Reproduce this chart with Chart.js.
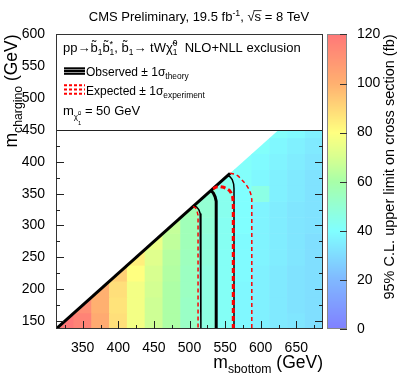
<!DOCTYPE html>
<html><head><meta charset="utf-8">
<script src="https://cdn.jsdelivr.net/npm/chart.js@4.4.0/dist/chart.umd.min.js"></script>
<style>html,body{margin:0;padding:0;background:#fff;overflow:hidden}</style>
</head><body>
<canvas id="c" width="399" height="383"></canvas>
<script>
// ---------- data ----------
const xBins = [325,350,375,400,425,450,475,500,525,550,575,600,625,650,675]; // m_sbottom bin centres (GeV)
const yBins = [150,175,200,225,250,275,300,325,350,375,400,425,450];         // m_chargino bin centres (GeV)
// 95% CL upper limit on cross section (fb), one row per yBin, one column per xBin
const upperLimit = [
  [120,116,102,88,77,68,61,53,47,42,38,36,34,33,31],
  [null,112,100,87,77,68,61,53,47,42,38,36,34,32,31],
  [null,null,100,88,77,69,61,54,47,42,38,36,34,32,31],
  [null,null,null,92,80,70,62,54,47,42,39,36,34,32,31],
  [null,null,null,null,84,72,63,55,48,42,39,37,35,33,31],
  [null,null,null,null,null,75,65,56,48,43,39,37,35,33,31],
  [null,null,null,null,null,null,66,56,49,43,40,37,35,33,32],
  [null,null,null,null,null,null,null,57,50,44,40,37,35,33,32],
  [null,null,null,null,null,null,null,null,50,44,40,46,36,34,32],
  [null,null,null,null,null,null,null,null,null,44,41,38,36,34,32],
  [null,null,null,null,null,null,null,null,null,null,41,39,37,35,33],
  [null,null,null,null,null,null,null,null,null,null,null,41,38,36,34],
  [null,null,null,null,null,null,null,null,null,null,null,null,41,39,36]
];
const observed      = [{x:530,y:355},{x:533.5,y:351},{x:536,y:345},{x:537.5,y:338},{x:537.5,y:137.5}];
const observedMinus = [{x:506.5,y:331.5},{x:510,y:329},{x:513,y:325},{x:515,y:319},{x:516,y:312},{x:516,y:137.5}];
const observedPlus  = [{x:553.5,y:378.5},{x:557,y:376.5},{x:560,y:372},{x:562,y:365},{x:562.5,y:358},{x:562.5,y:137.5}];
const expected      = [{x:533,y:358},{x:538,y:360.5},{x:543,y:361},{x:548,y:360},{x:552,y:358},{x:556,y:355},{x:558.5,y:351},{x:560.5,y:345},{x:561.5,y:337},{x:561.5,y:137.5}];
const expectedPlus  = [{x:557,y:382},{x:564,y:380.5},{x:569,y:377},{x:574,y:371},{x:579,y:365},{x:583,y:358},{x:586,y:350},{x:587.5,y:341},{x:587.5,y:137.5}];
const expectedMinus = [{x:505,y:330},{x:508.5,y:327.5},{x:510.5,y:323},{x:512,y:316},{x:512,y:137.5}];
const kinematicLimit = [{x:312.5,y:137.5},{x:557,y:382}];
const xTickLabels = [350,400,450,500,550,600,650];
const yTickLabels = [150,200,250,300,350,400,450,500,550,600];
const zTickLabels = [0,20,40,60,80,100,120];
const xTickMarks = [325,350,375,400,425,450,475,500,525,550,575,600,625,650,675];
const yTickMarks = [150,175,200,225,250,275,300,325,350,375,400,425];
const legendFloor = 450;   // legend box covers m_chargino above this

// ---------- styling ----------
const FONT = '"Liberation Sans", Arial, Helvetica, sans-serif';
const paletteStops = [[0,[128,128,255]],[20,[128,184,255]],[40,[128,255,255]],[60,[168,255,168]],[70,[216,255,144]],[80,[255,255,128]],[100,[255,176,112]],[120,[255,120,120]]];
function colorFor(v){
  if (v <= paletteStops[0][0]) return 'rgb('+paletteStops[0][1].join(',')+')';
  for (let i=1;i<paletteStops.length;i++){
    const [v1,c1]=paletteStops[i-1],[v2,c2]=paletteStops[i];
    if (v<=v2){const t=(v-v1)/(v2-v1);return 'rgb('+c1.map((c,k)=>Math.round(c+(c2[k]-c)*t)).join(',')+')';}
  }
  return 'rgb('+paletteStops[paletteStops.length-1][1].join(',')+')';
}
function rich(ctx,x,y,parts,base,measureOnly){
  let cx=x,lastStart=x;
  for(const p of parts){
    ctx.font=(base*(p.s||1))+'px '+FONT;
    const start=p.stack?lastStart:cx;
    if(!measureOnly) ctx.fillText(p.t,start,y+(p.dy||0));
    const w=ctx.measureText(p.t).width;
    if(p.stack){cx=Math.max(cx,start+w);} else {lastStart=start;cx=start+w;}
  }
  return cx-x;
}

const heatmapPlugin = {
  id:'heatmap',
  beforeDatasetsDraw(chart){
    const {ctx,scales:{x,y}}=chart;
    const bw=xBins[1]-xBins[0], bh=yBins[1]-yBins[0];
    ctx.save();
    ctx.beginPath();
    ctx.moveTo(x.getPixelForValue(kinematicLimit[0].x),y.getPixelForValue(kinematicLimit[0].y));
    const xd = kinematicLimit[0].x + (legendFloor-kinematicLimit[0].y);
    ctx.lineTo(x.getPixelForValue(xd),y.getPixelForValue(legendFloor));
    ctx.lineTo(x.getPixelForValue(x.max),y.getPixelForValue(legendFloor));
    ctx.lineTo(x.getPixelForValue(x.max),y.getPixelForValue(y.min));
    ctx.closePath(); ctx.clip();
    yBins.forEach((yc,j)=>{xBins.forEach((xc,i)=>{
      const v=upperLimit[j][i]; if(v==null) return;
      const x0=x.getPixelForValue(xc-bw/2),x1=x.getPixelForValue(xc+bw/2);
      const y0=y.getPixelForValue(yc+bh/2),y1=y.getPixelForValue(yc-bh/2);
      ctx.fillStyle=colorFor(v);
      ctx.fillRect(x0-0.3,y0-0.3,x1-x0+0.6,y1-y0+0.6);
    });});
    ctx.restore();
  }
};

const overlayPlugin = {
  id:'overlay',
  afterDatasetsDraw(chart){
    const {ctx,chartArea:a,scales:{x,y,z}}=chart;
    ctx.save();
    // legend box
    const yl=y.getPixelForValue(legendFloor);
    ctx.fillStyle='#fff'; ctx.fillRect(a.left,a.top,a.right-a.left,yl-a.top);
    ctx.strokeStyle='#222'; ctx.lineWidth=1;
    ctx.beginPath(); ctx.moveTo(a.left,Math.round(yl)+0.5); ctx.lineTo(a.right,Math.round(yl)+0.5); ctx.stroke();
    // frame
    ctx.strokeStyle='#333';
    ctx.strokeRect(Math.round(a.left)+0.5,Math.round(a.top)+0.5,Math.round(a.right-a.left)-1,Math.round(a.bottom-a.top)-1);
    // tick marks
    ctx.strokeStyle='#222'; ctx.beginPath();
    xTickMarks.forEach(v=>{const px=Math.round(x.getPixelForValue(v))+0.5;const L=v%50===0?8:4;ctx.moveTo(px,a.bottom);ctx.lineTo(px,a.bottom-L);});
    yTickMarks.forEach(v=>{const py=Math.round(y.getPixelForValue(v))+0.5;const L=v%50===0?8:4;
      ctx.moveTo(a.left,py);ctx.lineTo(a.left+L,py);ctx.moveTo(a.right,py);ctx.lineTo(a.right-L,py);});
    ctx.stroke();
    // colour bar
    const cbL=a.right+4, cbR=a.right+24;
    for(let py=Math.floor(z.top);py<z.bottom;py++){
      ctx.fillStyle=colorFor(z.getValueForPixel(py+0.5));
      ctx.fillRect(cbL,py,cbR-cbL,1);
    }
    ctx.strokeStyle='#888'; ctx.strokeRect(cbL+0.5,Math.round(z.top)+0.5,cbR-cbL-1,Math.round(z.bottom-z.top)-1);
    ctx.strokeStyle='#333'; ctx.beginPath();
    zTickLabels.forEach(v=>{const py=Math.round(z.getPixelForValue(v))+0.5;ctx.moveTo(cbR,py);ctx.lineTo(cbR-7,py);});
    ctx.stroke();
    // texts
    ctx.fillStyle='#000'; ctx.textBaseline='alphabetic'; ctx.textAlign='left';
    // title
    const TS=13;
    const tparts=[{t:'CMS Preliminary, 19.5 fb'},{t:'-1',s:0.68,dy:-5},{t:', '},{t:'\u221A'},{t:'s = 8 TeV'}];
    const tw=rich(ctx,0,0,tparts,TS,true);
    const tx=199-tw/2;
    rich(ctx,tx,20.5,tparts,TS);
    const pre=rich(ctx,0,0,[{t:'CMS Preliminary, 19.5 fb'},{t:'-1',s:0.68},{t:', '},{t:'\u221A'}],TS,true);
    ctx.font=TS+'px '+FONT;
    ctx.lineWidth=0.8; ctx.strokeStyle='#000'; ctx.beginPath();
    ctx.moveTo(tx+pre-1,10.6); ctx.lineTo(tx+pre+ctx.measureText('s').width+0.5,10.6); ctx.stroke();
    // legend header
    const h=[{t:'pp\u2192b\u0303'},{t:'1',s:0.65,dy:3},{t:'b\u0303'},{t:'*',s:0.7,dy:-5},{t:'1',s:0.65,dy:3,stack:true},
             {t:', b\u0303'},{t:'1',s:0.65,dy:3},{t:'\u2192 tW\u03C7\u0303'},{t:'0',s:0.65,dy:-6},{t:'1',s:0.65,dy:3,stack:true},
             {t:'  NLO+NLL exclusion'}];
    rich(ctx,63,52,h,13);
    // observed entry
    ctx.strokeStyle='#000';
    [[68.3,2],[71,2.5],[73.8,2]].forEach(([yy,w])=>{ctx.lineWidth=w;ctx.beginPath();ctx.moveTo(64,yy);ctx.lineTo(85,yy);ctx.stroke();});
    rich(ctx,86,75.5,[{t:'Observed'},{t:' \u00B1 1\u03C3'},{t:'theory',s:0.7,dy:3}],12);
    // expected entry
    ctx.strokeStyle='#ff0000'; ctx.setLineDash([3,2]);
    [[85.3,2],[89.5,2],[93.7,2]].forEach(([yy,w])=>{ctx.lineWidth=w;ctx.beginPath();ctx.moveTo(64,yy);ctx.lineTo(85,yy);ctx.stroke();});
    ctx.setLineDash([]);
    rich(ctx,86,94.5,[{t:'Expected'},{t:' \u00B1 1\u03C3'},{t:'experiment',s:0.7,dy:3}],12);
    // LSP mass
    rich(ctx,63,115,[{t:'m'},{t:'\u03C7\u0303',s:0.62,dy:4},{t:'0',s:0.45,dy:0},{t:'1',s:0.45,dy:10,stack:true},{t:' = 50 GeV'}],13);
    // x title (right aligned at plot end)
    const xt=[{t:'m'},{t:'sbottom',s:0.7,dy:5},{t:' (GeV)'}];
    const xw=rich(ctx,0,0,xt,17.5,true);
    rich(ctx,a.right-xw,368,xt,17.5);
    // y title
    const yt=[{t:'m'},{t:'chargino',s:0.7,dy:5},{t:' (GeV)'}];
    const yw=rich(ctx,0,0,yt,17.5,true);
    ctx.save(); ctx.translate(17,a.top); ctx.rotate(-Math.PI/2); rich(ctx,-yw,0,yt,17.5); ctx.restore();
    // colour bar title
    const zt=[{t:'95% C.L. upper limit on cross section (fb)'}];
    const zw=rich(ctx,0,0,zt,14.5,true);
    ctx.save(); ctx.translate(394,a.top); ctx.rotate(-Math.PI/2); rich(ctx,-zw,0,zt,14.5); ctx.restore();
    ctx.restore();
  }
};

const line=(label,data,color,width,dash)=>({label,data,showLine:true,borderColor:color,backgroundColor:color,borderWidth:width,borderDash:dash||[],pointRadius:0,fill:false,tension:0});
const tickFont={family:FONT,size:14};
new Chart(document.getElementById('c'),{
  type:'scatter',
  data:{datasets:[
    line('Expected',expected,'#ff0000',3,[5,3]),
    line('Expected +1\u03C3',expectedPlus,'#ff0000',1.5,[4,3]),
    line('Expected -1\u03C3',expectedMinus,'#ff0000',1.5,[4,3]),
    line('Observed',observed,'#000',3),
    line('Observed +1\u03C3',observedPlus,'#000',1.5),
    line('Observed -1\u03C3',observedMinus,'#000',1.5),
    line('Kinematic limit',kinematicLimit,'#000',3)
  ]},
  options:{
    responsive:false,animation:false,devicePixelRatio:1,
    layout:{padding:{top:31,left:0,right:0,bottom:0}},
    plugins:{legend:{display:false},tooltip:{enabled:false},title:{display:false}},
    scales:{
      x:{type:'linear',min:312.5,max:687.5,grid:{display:false},border:{display:false},
         afterFit(s){s.height=54;},
         ticks:{includeBounds:false,stepSize:50,autoSkip:false,maxRotation:0,font:tickFont,color:'#000',padding:3,
                callback:v=>xTickLabels.includes(v)?String(v):''}},
      y:{type:'linear',min:137.5,max:600,grid:{display:false},border:{display:false},
         afterFit(s){s.width=56;},
         ticks:{includeBounds:false,stepSize:50,autoSkip:false,font:tickFont,color:'#000',padding:3,
                callback:v=>yTickLabels.includes(v)?String(v):''}},
      z:{type:'linear',axis:'y',position:'right',min:0,max:120,grid:{display:false},border:{display:false},
         afterFit(s){s.width=76;},
         ticks:{stepSize:20,autoSkip:false,font:tickFont,color:'#000',padding:26,
                callback:v=>zTickLabels.includes(v)?String(v):''}}
    }
  },
  plugins:[heatmapPlugin,overlayPlugin]
});
</script>
</body></html>
